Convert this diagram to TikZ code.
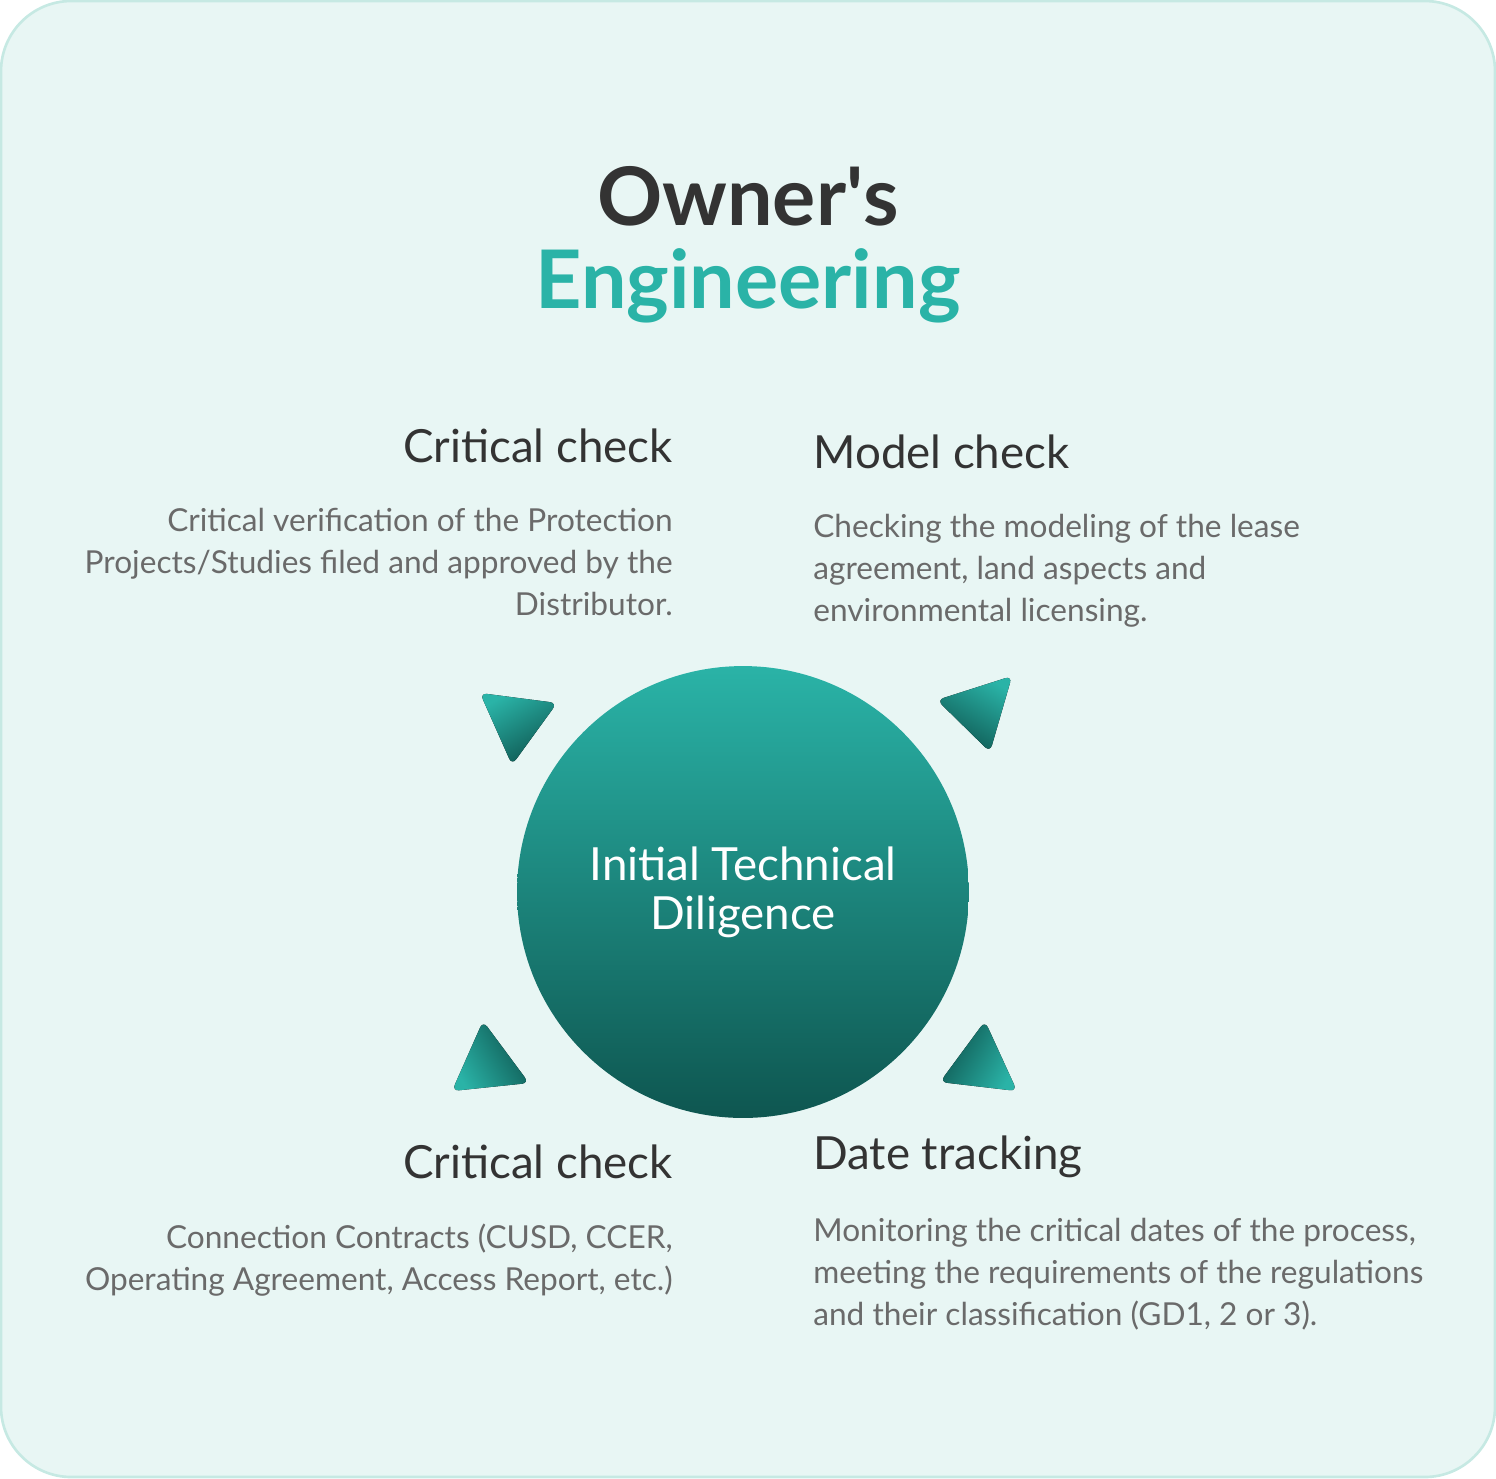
\documentclass[tikz,border=0pt]{standalone}
\usepackage{fontspec}
\setmainfont{Lato}
\usetikzlibrary{positioning}
\definecolor{bgfill}{HTML}{E8F6F4}
\definecolor{bgline}{HTML}{C6E9E3}
\definecolor{tealhi}{HTML}{2AB3A7}
\definecolor{tealdk}{HTML}{0E5650}
\definecolor{darktext}{HTML}{333333}
\definecolor{bodytext}{HTML}{6A6A6A}
\tikzset{
  heading/.style={text=darktext,font=\fontsize{26}{30}\selectfont,inner sep=0pt},
  body/.style={text=bodytext,font=\fontsize{18}{23.8}\selectfont,inner sep=0pt},
  arrowtip/.style={rounded corners=4pt,shading=axis,top color=tealhi,bottom color=tealdk}
}
\begin{document}
\begin{tikzpicture}[x=0.02cm,y=-0.02cm]
  \useasboundingbox (0,0) rectangle (1496,1478);
  \draw[bgline,fill=bgfill,line width=1.5pt,rounded corners=40pt] (1,1) rectangle (1495,1477);
  % title
  \node[text=darktext,font=\fontsize{46}{52}\selectfont\bfseries,inner sep=0pt] (owner) at (748,196) {Owner\textquotesingle s};
  \node[text=tealhi,font=\fontsize{46}{52}\selectfont\bfseries,inner sep=0pt] (eng) at (748,286) {Engineering};
  % centre
  \node[circle,minimum size=9.04cm,inner sep=0pt,shading=axis,top color=tealhi,bottom color=tealdk,
        text=white,align=center,font=\fontsize{26}{28}\selectfont] (itd) at (743,892) {Initial Technical\\Diligence};
  % arrow tips
  \fill[arrowtip,shading angle=30] (480,693) -- (557,703) -- (512,765) -- cycle;
  \fill[arrowtip,shading angle=-30] (937,700) -- (1012,676) -- (990,752) -- cycle;
  \fill[arrowtip,shading angle=120] (452,1091) -- (529,1083) -- (483,1021) -- cycle;
  \fill[arrowtip,shading angle=-120] (940,1082) -- (1017,1091) -- (985,1021) -- cycle;
  % texts
  \node[heading,anchor=east] (ctop) at (673,446) {Critical check};
  \node[body,anchor=north east,align=right] (ctopbody) at (673,508) {Critical verification of the Protection\\Projects/Studies filed and approved by the\\Distributor.};
  \node[heading,anchor=west] (mtop) at (813,452) {Model check};
  \node[body,anchor=north west,align=left] (mtopbody) at (813,514) {Checking the modeling of the lease\\agreement, land aspects and\\environmental licensing.};
  \node[heading,anchor=east] (cbot) at (673,1162) {Critical check};
  \node[body,anchor=north east,align=right] (cbotbody) at (673,1224) {Connection Contracts (CUSD, CCER,\\Operating Agreement, Access Report, etc.)};
  \node[heading,anchor=west] (dbot) at (813,1157) {Date tracking};
  \node[body,anchor=north west,align=left] (dbotbody) at (813,1218) {Monitoring the critical dates of the process,\\meeting the requirements of the regulations\\and their classification (GD1, 2 or 3).};
\end{tikzpicture}
\end{document}
